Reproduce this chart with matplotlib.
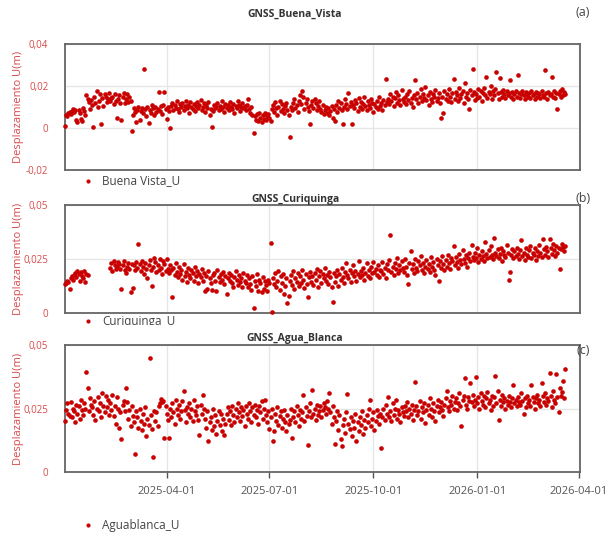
import matplotlib
matplotlib.use("Agg")
import matplotlib.pyplot as plt
import matplotlib.dates as mdates
from matplotlib.ticker import FuncFormatter
from matplotlib.transforms import Bbox, TransformedBbox
import numpy as np
import pandas as pd

plt.rcParams['font.family'] = ['Open Sans', 'DejaVu Sans']

# Desplazamiento vertical diario (unidades de 0,1 mm), desde 2025-01-01
inicio = "2025-01-01"

u_buena_vista = [
    10, 62, 55, 70, 78, 65, 82, 90, 75, 85, 40, 30, 88, 72, 45, 35, 95, 80, 60, 157,
    140, 125, 90, 135, 110, 3, 150, 120, 175, 100, 130, 160, 17, 145, 105, 160, 150, 125, 140, 165,
    130, 145, 150, 115, 160, 130, 46, 140, 155, 120, 38, 150, 165, 118, 140, 160, 125, 150, 130, -13,
    60, 95, 75, 30, 85, 100, 40, 80, 95, 70, 281, 90, 55, 100, 22, 85, 70, 110, 95, 60,
    100, 75, 90, 170, 80, 105, 65, 110, 170, 90, 45, 100, 80, 0, 105, 120, 85, 110, 95, 130,
    90, 75, 115, 100, 120, 85, 105, 130, 95, 110, 70, 125, 100, 90, 115, 80, 105, 125, 95, 110,
    133, 85, 100, 120, 75, 110, 95, 125, 60, 90, 6, 80, 110, 95, 100, 120, 85, 105, 90, 130,
    100, 75, 115, 95, 110, 85, 125, 100, 90, 115, 70, 105, 95, 130, 110, 80, 100, 120, 95, 105,
    85, 110, 140, 90, 70, 100, 60, -25, 55, 40, 65, 35, 70, 50, 30, 60, 45, 70, 40, 55,
    65, 50, 35, 90, 110, 75, 125, 95, 60, 100, 130, 80, 115, 90, 70, 105, 120, 85, 60, -41,
    100, 85, 120, 140, 95, 110, 75, 130, 155, 115, 178, 150, 90, 120, 140, 100, 80, 19, 110, 130,
    95, 140, 120, 85, 105, 130, 90, 75, 110, 65, 85, 100, 70, 95, 60, 80, 105, 50, 90, 33,
    110, 75, 130, 95, 120, 85, 17, 100, 140, 115, 90, 165, 105, 125, 19, 110, 95, 135, 120, 80,
    145, 100, 125, 90, 115, 150, 105, 85, 130, 110, 95, 140, 120, 75, 115, 100, 130, 90, 150, 105,
    120, 85, 135, 110, 232, 125, 140, 115, 160, 130, 150, 105, 145, 170, 120, 155, 135, 110, 180, 140,
    125, 150, 115, 160, 135, 175, 120, 145, 100, 155, 228, 140, 165, 120, 150, 185, 130, 160, 145, 197,
    135, 155, 110, 170, 140, 125, 160, 150, 180, 130, 145, 165, 120, 46, 150, 70, 175, 140, 160, 130,
    185, 150, 125, 165, 232, 140, 170, 155, 130, 190, 145, 160, 175, 120, 216, 150, 165, 140, 90, 180,
    155, 280, 170, 135, 160, 145, 185, 150, 175, 130, 165, 190, 155, 244, 145, 170, 160, 200, 140, 175,
    155, 185, 268, 165, 140, 240, 170, 150, 180, 160, 145, 175, 155, 165, 230, 150, 170, 140, 160, 175,
    150, 252, 165, 145, 160, 175, 155, 140, 170, 160, 150, 165, 145, 175, 155, 160, 140, 170, 150, 165,
    160, 145, 175, 155, 150, 276, 165, 140, 170, 155, 160, 244, 150, 175, 145, 165, 89, 160, 175, 150,
    185, 155, 170, 160,
]

u_curiquinga = [
    133, 140, 150, 145, 112, 160, 170, 155, 175, 185, 165, 195, 180, 150, 190, 170, 160, 195, 145, 180, 175,
    None, None, None, None, None, None, None, None, None, None,
    None, None, None, None, None, None, None, None, None,
    210, 230, 195, 240, 220, 205, 215, 235, 225, 205, 112, 220, 240, 200, 185, 215, 230, 205, 98, 225,
    115, 220, 200, 235, 210, 320, 225, 195, 240, 215, 180, 230, 205, 160, 220, 245, 200, 125, 215, 255,
    235, 190, 220, 200, 250, 210, 180, 240, 225, 195, 250, 205, 185, 220, 200, 73, 210, 175, 230, 190,
    165, 215, 180, 200, 155, 225, 170, 190, 145, 210, 175, 160, 200, 185, 150, 215, 170, 195, 140, 180,
    165, 205, 150, 185, 100, 170, 110, 195, 160, 140, 105, 175, 185, 150, 100, 200, 165, 145, 180, 155,
    190, 135, 170, 90, 160, 185, 150, 175, 140, 120, 165, 195, 155, 130, 175, 145, 160, 120, 185, 150,
    140, 175, 120, 160, 135, 105, 170, 22, 150, 125, 180, 100, 155, 140, 95, 165, 110, 150, 130, 100,
    155, 140, 325, 6, 160, 135, 185, 120, 150, 195, 105, 170, 140, 180, 90, 125, 160, 47, 80, 150,
    175, 130, 195, 110, 160, 145, 185, 125, 170, 140, 200, 155, 115, 180, 135, 75, 165, 190, 145, 170,
    130, 185, 155, 205, 120, 170, 195, 140, 180, 160, 210, 150, 175, 135, 190, 165, 120, 52, 185, 145,
    170, 200, 125, 180, 155, 210, 165, 140, 190, 230, 175, 160, 200, 145, 185, 220, 170, 195, 150, 180,
    240, 165, 195, 175, 210, 155, 185, 230, 170, 200, 160, 215, 185, 235, 190, 205, 175, 220, 165, 200,
    195, 235, 180, 210, 160, 225, 200, 245, 360, 190, 215, 175, 230, 205, 255, 185, 220, 200, 240, 210,
    190, 250, 215, 175, 133, 230, 289, 205, 225, 185, 250, 210, 195, 240, 220, 265, 200, 230, 185, 215,
    245, 205, 225, 190, 260, 215, 235, 200, 175, 250, 220, 148, 240, 210, 265, 225, 200, 245, 215, 270,
    230, 205, 255, 240, 308, 220, 260, 235, 210, 275, 245, 225, 290, 250, 230, 270, 215, 255, 280, 240,
    317, 260, 245, 280, 255, 300, 235, 270, 250, 285, 265, 240, 328, 275, 255, 290, 260, 310, 270, 250,
    348, 280, 265, 295, 255, 275, 300, 240, 285, 270, 260, 315, 280, 152, 188, 270, 295, 255, 285, 265,
    300, 275, 250, 290, 339, 265, 280, 245, 300, 270, 260, 290, 310, 255, 280, 270, 300, 245, 285, 265,
    315, 280, 260, 344, 295, 270, 305, 285, 260, 344, 300, 275, 320, 290, 265, 310, 280, 300, 203, 295,
    320, 305, 285, 310,
]

u_agua_blanca = [
    200, 245, 270, 230, 220, 275, 215, 250, 240, 195, 265, 230, 260, 210, 285, 245, 225, 270, 250, 392,
    330, 240, 290, 265, 255, 225, 280, 205, 250, 295, 240, 270, 215, 310, 260, 235, 300, 255, 285, 225,
    270, 245, 305, 220, 260, 190, 295, 250, 175, 235, 130, 265, 280, 240, 330, 275, 210, 245, 180, 260,
    220, 195, 69, 240, 215, 175, 250, 200, 165, 230, 190, 255, 140, 210, 185, 447, 225, 170, 61, 240,
    200, 235, 180, 260, 270, 288, 275, 280, 134, 260, 230, 205, 134, 250, 215, 270, 235, 190, 285, 250,
    225, 265, 210, 240, 280, 320, 245, 195, 255, 230, 270, 215, 250, 200, 285, 240, 225, 260, 205, 145,
    265, 230, 305, 250, 210, 175, 240, 122, 195, 215, 165, 250, 180, 225, 150, 200, 240, 185, 230, 160,
    210, 145, 190, 230, 255, 205, 240, 185, 260, 225, 195, 250, 215, 270, 235, 200, 255, 220, 245, 180,
    260, 230, 210, 270, 240, 195, 255, 225, 265, 215, 245, 190, 260, 235, 280, 210, 250, 285, 225, 195,
    240, 170, 215, 250, 121, 160, 230, 200, 255, 185, 220, 240, 175, 210, 245, 195, 160, 225, 190, 205,
    250, 134, 215, 240, 195, 260, 225, 180, 245, 210, 235, 305, 200, 255, 220, 105, 240, 270, 215, 322,
    230, 250, 205, 265, 225, 240, 260, 215, 245, 270, 255, 230, 280, 250, 311, 235, 190, 260, 215, 112,
    200, 240, 165, 225, 130, 102, 185, 210, 155, 235, 307, 190, 170, 215, 140, 200, 175, 230, 122, 195,
    160, 215, 185, 240, 150, 205, 175, 225, 195, 250, 284, 180, 210, 235, 165, 200, 245, 220, 190, 230,
    96, 215, 250, 205, 265, 230, 294, 215, 240, 200, 270, 225, 250, 285, 210, 245, 230, 195, 255, 235,
    220, 260, 240, 275, 215, 250, 230, 265, 205, 245, 353, 260, 225, 240, 280, 210, 255, 235, 270, 194,
    245, 265, 225, 290, 250, 215, 270, 240, 200, 260, 285, 235, 255, 275, 245, 220, 265, 290, 320, 255,
    240, 280, 265, 300, 250, 275, 290, 245, 270, 310, 260, 181, 285, 300, 370, 265, 250, 295, 280, 349,
    275, 305, 260, 285, 375, 270, 295, 250, 310, 280, 265, 300, 255, 290, 315, 270, 285, 245, 300, 260,
    295, 379, 270, 320, 203, 285, 260, 305, 275, 290, 250, 280, 265, 300, 275, 255, 290, 344, 270, 285,
    260, 295, 275, 265, 310, 280, 228, 290, 255, 300, 270, 285, 260, 344, 295, 275, 250, 290, 305, 270,
    285, 260, 349, 300, 275, 310, 265, 290, 280, 388, 300, 255, 320, 285, 270, 385, 295, 237, 330, 300,
    315, 360, 290, 404,
]

titulos = ["GNSS_Buena_Vista", "GNSS_Curiquinga", "GNSS_Agua_Blanca"]
etiquetas = ["Buena Vista_U", "Curiquinga_U", "Aguablanca_U"]
letras = ["(a)", "(b)", "(c)"]
yticks = [[-0.02, 0, 0.02, 0.04], [0, 0.025, 0.05], [0, 0.025, 0.05]]
fechas_ticks = ["2025-04-01", "2025-07-01", "2025-10-01", "2026-01-01", "2026-04-01"]

ROJO = "#c80000"
ROJO_TXT = "#d84a4a"
GRIS = "#555555"

W, H = 608, 533
fig = plt.figure(figsize=(W / 100, H / 100), dpi=100)

def fx(px):
    return px / W

def fy(py):
    return 1 - py / H

# [izq, arriba, abajo] en pixeles para cada panel
cajas = [(65, 44, 170), (65, 205, 313), (65, 345, 472)]
pos_titulo = [14, 200, 338]
pos_letra = [12, 198, 350]
pos_leyenda = [181, 321, 525]

def fmt_coma(v, _):
    if abs(v) < 1e-12:
        return "0"
    s = ("%.3f" % v).rstrip("0")
    return s.replace(".", ",")

series = [u_buena_vista, u_curiquinga, u_agua_blanca]
for i, datos in enumerate(series):
    izq, arr, aba = cajas[i]
    ax = fig.add_axes([fx(izq), fy(aba), fx(580) - fx(izq), fy(arr) - fy(aba)])
    fechas = pd.date_range(inicio, periods=len(datos), freq="D")
    valores = np.array([np.nan if v is None else v for v in datos], dtype=float) / 10000
    ax.scatter(fechas, valores, s=11, color=ROJO, linewidths=0, label=etiquetas[i],
               zorder=3, clip_on=False)

    ax.set_xlim(pd.Timestamp("2025-01-01"), pd.Timestamp("2026-04-02"))
    ax.set_ylim(yticks[i][0], yticks[i][-1])
    ax.set_yticks(yticks[i])
    ax.yaxis.set_major_formatter(FuncFormatter(fmt_coma))
    ax.set_xticks([pd.Timestamp(f) for f in fechas_ticks])
    ax.xaxis.set_major_formatter(mdates.DateFormatter("%Y-%m-%d"))
    ax.grid(True, color="#e6e6e6", linewidth=1, zorder=0)
    ax.set_axisbelow(True)
    ax.tick_params(axis="y", length=0, pad=12, labelsize=7, labelcolor=ROJO_TXT)
    if i < 2:
        ax.tick_params(axis="x", length=0, labelbottom=False)
    else:
        ax.tick_params(axis="x", length=4, width=1, color=GRIS, pad=6,
                       labelsize=8, labelcolor="#555555")
    for sp in ax.spines.values():
        sp.set_color("#666666")
        sp.set_linewidth(1.3)

    ax.set_ylabel("Desplazamiento U(m)", color=ROJO_TXT, fontsize=8)
    ax.yaxis.set_label_coords((24 - izq) / (580 - izq), 0.5)

    fig.text(fx(295), fy(pos_titulo[i]), titulos[i], ha="center", va="center",
             fontsize=7.5, fontweight="bold", color="#333333")
    fig.text(fx(583), fy(pos_letra[i]), letras[i], ha="center", va="center",
             fontsize=9, color="#444444")

    leg = ax.legend(loc="center left", bbox_to_anchor=(fx(82), fy(pos_leyenda[i])),
                    bbox_transform=fig.transFigure, frameon=False, fontsize=8.5,
                    handlelength=1.0, handletextpad=0.7, borderpad=0, borderaxespad=0,
                    markerscale=0.9)
    for t in leg.get_texts():
        t.set_color("#444444")
    if i == 1:
        # el texto de la leyenda central queda cortado por el panel inferior
        t = leg.get_texts()[0]
        t.set_clip_on(True)
        t.set_clip_box(TransformedBbox(Bbox([[0, fy(325)], [1, 1]]), fig.transFigure))

fig.savefig("out.png", dpi=100)
